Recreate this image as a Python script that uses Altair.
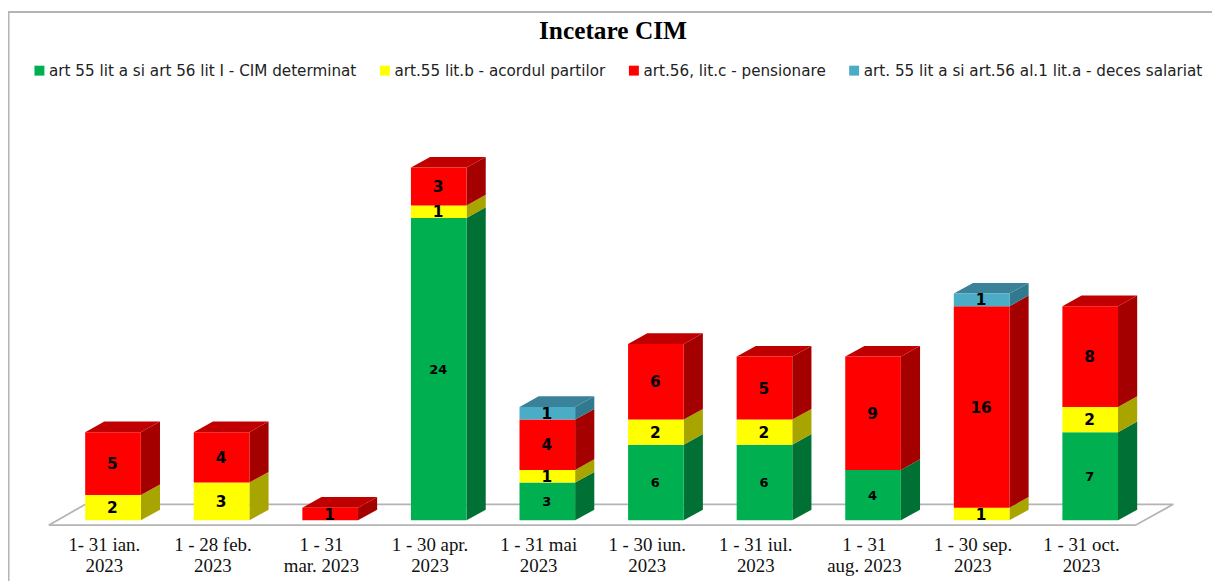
import altair as alt
import pandas as pd

categories = ["1- 31 ian.\n2023", "1 - 28 feb.\n2023", "1 - 31\nmar. 2023", "1 - 30 apr.\n2023",
              "1 - 31 mai\n2023", "1 - 30 iun.\n2023", "1 - 31 iul.\n2023", "1 - 31\naug. 2023",
              "1 - 30 sep.\n2023", "1 - 31 oct.\n2023"]
cim_determinat = [0, 0, 0, 24, 3, 6, 6, 4, 0, 7]
acordul_partilor = [2, 3, 0, 1, 1, 2, 2, 0, 1, 2]
pensionare = [5, 4, 1, 3, 4, 6, 5, 9, 16, 8]
deces_salariat = [0, 0, 0, 0, 1, 0, 0, 0, 1, 0]

series_names = ["art 55 lit a si art 56 lit I - CIM determinat", "art.55 lit.b - acordul partilor",
                "art.56, lit.c - pensionare", "art. 55 lit a si art.56 al.1 lit.a - deces salariat"]
series_values = [cim_determinat, acordul_partilor, pensionare, deces_salariat]
front_colors = ["#00B050", "#FFFF00", "#FF0000", "#4BACC6"]
side_colors = ["#007034", "#A8A400", "#A50000", "#31798E"]
top_colors = ["#008A40", "#C4C000", "#C00000", "#3A8299"]

W, H = 1212, 575
STEP, UNIT = 109.3, 12.68       # pixels per category / per value
CX0, BASE = 113.7, 521.8        # page position of first bar centre and of value 0
BAR = 56 / STEP
DX, DY = 19.3 / STEP, 10.7 / UNIT   # depth of the 3D effect
x_dom = [(8 - CX0) / STEP, (8 + W - CX0) / STEP]
y_dom = [(8 + H - BASE) / -UNIT, (BASE - 8) / UNIT]

front, side, top, labels = [], [], [], []
for i in range(len(categories)):
    base = 0
    last = None
    for s, name in enumerate(series_names):
        v = series_values[s][i]
        if not v:
            continue
        y0, y1 = base, base + v
        seg = f"{i}-{s}"
        front.append(dict(x=i - BAR / 2, x2=i + BAR / 2, y=y0, y2=y1, series=name))
        for k in (0, 1):
            side.append(dict(seg=seg, x=i + BAR / 2 + k * DX, y=y0 + k * DY, y2=y1 + k * DY, c=side_colors[s]))
        labels.append(dict(x=i - 0.005, y=(y0 + y1) / 2 - 0.05, t=str(v), fs=13 if s == 0 else 15.5))
        base = y1
        last = s
    for k in (0, 1):
        top.append(dict(seg=str(i), x=i - BAR / 2 + k * DX, x2=i + BAR / 2 + k * DX,
                        y=base + k * DY, c=top_colors[last]))

xs = alt.Scale(domain=x_dom, nice=False, zero=False)
ys = alt.Scale(domain=y_dom, nice=False, zero=False)
X = alt.X("x:Q", scale=xs, axis=None)
Y = alt.Y("y:Q", scale=ys, axis=None)

floor_df = pd.DataFrame(dict(o=range(5),
                             x=[-0.592, 9.417, 9.765, -0.254, -0.592],
                             y=[-0.386, -0.386, 1.27, 1.27, -0.386]))
floor = alt.Chart(floor_df).mark_line(color="#B4B4B4", strokeWidth=1.8).encode(X, Y, order="o:Q")

side_l = alt.Chart(pd.DataFrame(side)).mark_area(orient="vertical").encode(
    X, Y, y2="y2:Q", detail="seg:N", color=alt.Color("c:N", scale=None))
top_l = alt.Chart(pd.DataFrame(top)).mark_area(orient="horizontal").encode(
    X, x2="x2:Q", y=Y, detail="seg:N", color=alt.Color("c:N", scale=None))
front_l = alt.Chart(pd.DataFrame(front)).mark_rect().encode(
    X, x2="x2:Q", y=Y, y2="y2:Q",
    color=alt.Color("series:N", scale=alt.Scale(domain=series_names, range=front_colors),
                    legend=alt.Legend(title=None, orient="none", legendX=24, legendY=53.5,
                                      direction="horizontal", columns=4, gridAlign="none",
                                      columnPadding=20.7, symbolType="square", symbolSize=100,
                                      symbolStrokeWidth=0, symbolOpacity=1, labelFont="DejaVu Sans",
                                      labelFontSize=15.3, labelColor="#222222", labelOffset=2,
                                      labelLimit=500, padding=0)))
label_l = alt.Chart(pd.DataFrame(labels)).mark_text(font="DejaVu Sans", fontWeight="bold", color="black").encode(
    X, Y, text="t:N", size=alt.Size("fs:Q", scale=None))
cat_df = pd.DataFrame(dict(x=[i - 0.08 for i in range(len(categories))],
                           y=[-1.28] * len(categories), t=categories))
cat_l = alt.Chart(cat_df).mark_text(font="Liberation Serif", fontSize=19, baseline="top",
                                    lineBreak="\n", lineHeight=21, color="#111111").encode(X, Y, text="t:N")

border_top = alt.Chart(pd.DataFrame({"a": [0]})).mark_rule(color="#B4B4B4", strokeWidth=2).encode(
    x=alt.value(0), x2=alt.value(W), y=alt.value(2))
border_left = alt.Chart(pd.DataFrame({"a": [0]})).mark_rule(color="#B4B4B4", strokeWidth=2).encode(
    x=alt.value(0.5), y=alt.value(2), y2=alt.value(H))

chart = alt.layer(border_top, border_left, floor, side_l, top_l, front_l, label_l, cat_l).properties(
    width=W, height=H, padding=0, autosize=alt.AutoSizeParams(type="none"),
    title=alt.TitleParams("Incetare CIM", font="Liberation Serif", fontSize=25.5, fontWeight="bold",
                          color="#000000", anchor="middle", offset=0, dy=34.5, dx=3),
).configure_view(stroke=None)

chart.save("out.html", embed_options={"renderer": "svg", "actions": False})
